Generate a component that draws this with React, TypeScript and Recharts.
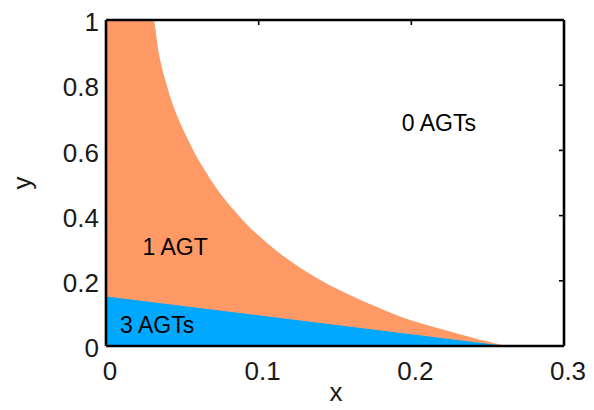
import React from 'react';
import { ComposedChart, Area, XAxis, YAxis, ReferenceDot } from 'recharts';

// Boundary between "1 AGT" and "0 AGTs" regions
const curveX = [0, 0.031, 0.0345, 0.0398, 0.054, 0.0672, 0.0748, 0.0836, 0.0945, 0.1055, 0.1164, 0.1274, 0.1383, 0.1536, 0.1766, 0.193, 0.2258, 0.262];
const oneAgtUpper = [1, 1, 0.9, 0.8, 0.63, 0.52, 0.468, 0.418, 0.362, 0.316, 0.275, 0.239, 0.208, 0.17, 0.121, 0.09, 0.044, 0];
// Boundary of "3 AGTs" region (straight line)
const threeAgtX = [0, 0.262];
const threeAgtUpper = [0.152, 0];

const xTicks = [0, 0.1, 0.2, 0.3];
const yTicks = [0, 0.2, 0.4, 0.6, 0.8, 1];

const annotationTexts = ['0 AGTs', '1 AGT', '3 AGTs'];
const annotationX = [0.218, 0.0453, 0.0335];
const annotationY = [0.685, 0.3055, 0.0646];

const allX = Array.from(new Set([...curveX, ...threeAgtX])).sort((a, b) => a - b);
const data = allX.map((x) => {
  const i = curveX.indexOf(x);
  const j = threeAgtX.indexOf(x);
  return {
    x,
    one: i >= 0 ? oneAgtUpper[i] : null,
    three: j >= 0 ? threeAgtUpper[j] : null,
  };
});

const FONT = '"Liberation Sans", Arial, Helvetica, sans-serif';
const TEXT = '#1a1a1a';

const XTick = (props: any) => {
  const { x, y, payload } = props;
  return (
    <text x={x + 4} y={y} dy="0.71em" textAnchor="middle" fontSize={26} fontFamily={FONT} fill={TEXT}>
      {payload.value}
    </text>
  );
};

const YTick = (props: any) => {
  const { x, y, payload } = props;
  return (
    <text x={x} y={y + 2} dy="0.355em" textAnchor="end" fontSize={26} fontFamily={FONT} fill={TEXT}>
      {payload.value}
    </text>
  );
};

const NoLabel = () => null;

const XLabel = (props: any) => {
  const { viewBox } = props;
  const cx = viewBox.x + viewBox.width / 2 + 1;
  const cy = viewBox.y + 55;
  return (
    <text x={cx} y={cy} textAnchor="middle" fontSize={26} fontFamily={FONT} fill={TEXT}>
      x
    </text>
  );
};

const YLabel = (props: any) => {
  const { viewBox } = props;
  const cx = viewBox.x + viewBox.width - 75;
  const cy = viewBox.y + viewBox.height / 2;
  return (
    <text x={cx} y={cy} transform={`rotate(-90 ${cx} ${cy})`} textAnchor="middle" fontSize={26} fontFamily={FONT} fill={TEXT}>
      y
    </text>
  );
};

const axisLine = { stroke: '#000', strokeWidth: 2.6 };
const tickLine = { stroke: '#000', strokeWidth: 1.6 };

export default function App() {
  return (
    <div style={{ position: 'absolute', left: 0, top: 0, background: '#fff' }}>
      <ComposedChart width={594} height={410} data={data} margin={{ top: 20, right: 30, bottom: 63, left: 105 }}>
        <XAxis
          xAxisId="b"
          dataKey="x"
          type="number"
          domain={[0, 0.3]}
          ticks={xTicks}
          allowDataOverflow
          orientation="bottom"
          height={1}
          tickLine={false}
          tickSize={14}
          tickMargin={2}
          axisLine={axisLine}
          tick={<XTick />}
          label={XLabel}
        />
        <XAxis
          xAxisId="t"
          dataKey="x"
          type="number"
          domain={[0, 0.3]}
          ticks={xTicks}
          allowDataOverflow
          orientation="top"
          height={1}
          mirror
          tick={<NoLabel />}
          tickLine={tickLine}
          tickSize={5}
          axisLine={axisLine}
        />
        <YAxis
          yAxisId="l"
          type="number"
          domain={[0, 1]}
          ticks={yTicks}
          allowDataOverflow
          width={1}
          tickLine={false}
          tickSize={5}
          tickMargin={2}
          axisLine={axisLine}
          tick={<YTick />}
          label={YLabel}
        />
        <YAxis
          yAxisId="r"
          type="number"
          domain={[0, 1]}
          ticks={yTicks}
          allowDataOverflow
          orientation="right"
          width={1}
          mirror
          tick={<NoLabel />}
          tickLine={tickLine}
          tickSize={5}
          axisLine={axisLine}
        />
        <Area
          xAxisId="b"
          yAxisId="l"
          dataKey="one"
          type="monotoneX"
          fill="#FF9966"
          fillOpacity={1}
          stroke="none"
          connectNulls
          isAnimationActive={false}
          baseValue={0}
        />
        <Area
          xAxisId="b"
          yAxisId="l"
          dataKey="three"
          type="linear"
          fill="#00A8FF"
          fillOpacity={1}
          stroke="none"
          connectNulls
          isAnimationActive={false}
          baseValue={0}
        />
        {annotationTexts.map((t, i) => (
          <ReferenceDot
            key={t}
            xAxisId="b"
            yAxisId="l"
            x={annotationX[i]}
            y={annotationY[i]}
            r={0}
            fill="none"
            stroke="none"
            label={{ value: t, position: 'center', fontSize: 23, fontFamily: FONT, fill: '#000' }}
          />
        ))}
      </ComposedChart>
    </div>
  );
}
